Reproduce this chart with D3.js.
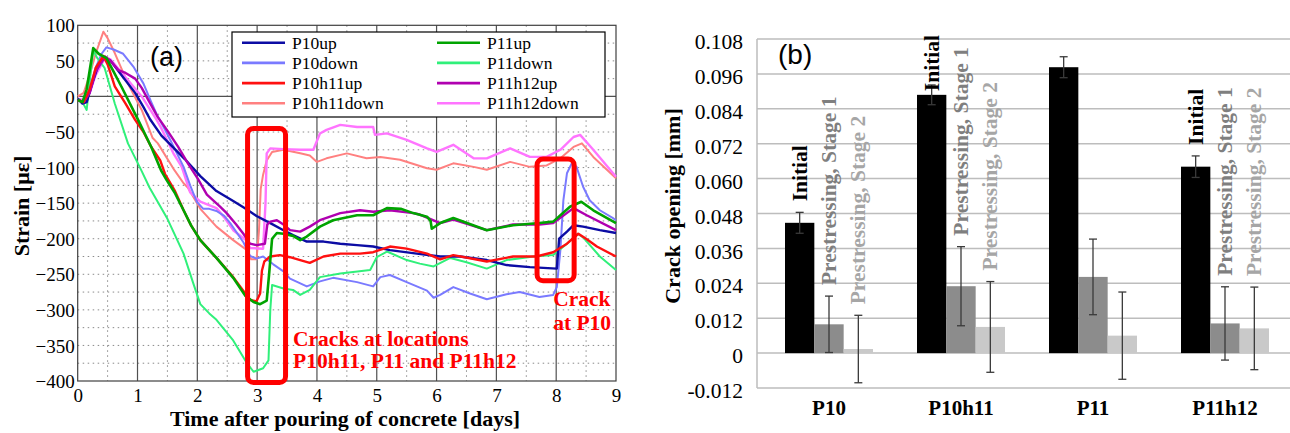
<!DOCTYPE html>
<html><head><meta charset="utf-8">
<script src="https://cdn.jsdelivr.net/npm/d3@7"></script>
<style>
body{margin:0;background:#fff}svg{display:block}
.serif{font-family:"Liberation Serif","Times New Roman",serif}
.sans{font-family:"Liberation Sans",Arial,sans-serif}
</style>
</head><body>
<svg id="c" width="1290" height="433"></svg>
<script>
// ---------- DATA: panel (a) strain vs time [day, microstrain] ----------
const P10up = [[0,-3],[0.08,-10],[0.15,-8],[0.25,20],[0.35,45],[0.45,55],[0.55,50],[0.75,28],[0.96,5],[1.1,-15],[1.21,-32],[1.4,-55],[1.6,-72],[1.79,-88],[2.05,-112],[2.32,-133],[2.6,-147],[2.83,-159],[2.99,-168],[3.22,-178],[3.44,-188],[3.6,-195],[3.83,-204],[4.11,-204],[4.39,-207],[4.67,-209],[4.94,-211],[5.22,-216],[5.67,-221],[6.06,-225],[6.39,-225],[6.84,-230],[7.17,-237],[7.56,-240],[8.01,-242],[8.05,-200],[8.18,-190],[8.29,-181],[8.45,-183],[8.73,-188],[9.0,-192]];
const P10down = [[0,-5],[0.1,-8],[0.2,10],[0.3,40],[0.4,60],[0.48,69],[0.6,66],[0.76,60],[0.93,42],[1.1,18],[1.23,-8],[1.32,-25],[1.45,-45],[1.6,-70],[1.77,-99],[1.88,-125],[1.99,-148],[2.1,-158],[2.2,-158],[2.32,-161],[2.45,-168],[2.55,-178],[2.77,-205],[2.88,-224],[2.99,-228],[3.1,-225],[3.27,-236],[3.44,-246],[3.55,-256],[3.83,-267],[4.05,-260],[4.27,-255],[4.67,-261],[4.94,-267],[5.06,-254],[5.22,-251],[5.5,-261],[5.84,-273],[5.95,-283],[6.06,-279],[6.28,-268],[6.56,-277],[6.84,-285],[7.17,-278],[7.39,-275],[7.72,-282],[7.95,-279],[8.01,-268],[8.07,-216],[8.12,-146],[8.18,-108],[8.26,-94],[8.34,-99],[8.45,-127],[8.56,-146],[8.73,-160],[8.95,-171],[9.0,-174]];
const P10h11up = [[0,-5],[0.1,-8],[0.2,10],[0.3,40],[0.43,57],[0.5,45],[0.62,14],[0.8,-10],[0.96,-33],[1.1,-50],[1.23,-71],[1.38,-90],[1.46,-109],[1.62,-132],[1.77,-160],[1.9,-182],[2.05,-202],[2.32,-227],[2.6,-254],[2.83,-280],[2.88,-286],[2.99,-288],[3.05,-277],[3.08,-245],[3.12,-232],[3.22,-225],[3.38,-223],[3.55,-226],[3.72,-230],[3.88,-234],[4.11,-225],[4.39,-221],[4.72,-221],[4.94,-219],[5.22,-211],[5.5,-214],[5.84,-221],[6.06,-229],[6.28,-223],[6.84,-232],[7.28,-225],[7.67,-225],[7.95,-219],[8.18,-207],[8.37,-193],[8.5,-200],[8.68,-211],[9.0,-225]];
const P10h11down = [[0,0],[0.1,5],[0.2,30],[0.3,60],[0.43,91],[0.5,82],[0.62,61],[0.84,18],[1.07,-19],[1.25,-58],[1.34,-66],[1.62,-104],[1.77,-122],[1.84,-128],[2.05,-158],[2.32,-183],[2.6,-202],[2.83,-216],[2.9,-229],[2.99,-229],[3.03,-190],[3.06,-130],[3.1,-110],[3.16,-90],[3.25,-78],[3.44,-75],[3.72,-80],[3.88,-83],[4.0,-92],[4.16,-87],[4.5,-80],[4.83,-87],[5.06,-85],[5.39,-89],[5.84,-101],[6.0,-103],[6.28,-94],[6.62,-99],[6.84,-103],[7.23,-92],[7.56,-99],[7.84,-97],[8.07,-87],[8.29,-71],[8.43,-66],[8.62,-85],[9.0,-115]];
const P11up = [[0,-5],[0.08,-8],[0.15,10],[0.26,68],[0.35,60],[0.48,54],[0.6,35],[0.73,14],[1.01,-33],[1.23,-71],[1.4,-105],[1.49,-118],[1.62,-135],[1.77,-160],[1.9,-182],[2.05,-202],[2.32,-227],[2.6,-255],[2.8,-280],[2.94,-289],[3.05,-292],[3.16,-287],[3.2,-250],[3.25,-200],[3.33,-192],[3.44,-193],[3.6,-196],[3.72,-202],[3.83,-197],[4.05,-183],[4.27,-174],[4.67,-167],[4.94,-167],[5.17,-157],[5.4,-158],[5.61,-164],[5.84,-169],[5.9,-175],[5.92,-186],[6.06,-178],[6.28,-171],[6.84,-188],[7.28,-181],[7.72,-178],[7.95,-176],[8.23,-155],[8.42,-148],[8.62,-160],[9.0,-178]];
const P11down = [[0,-3],[0.08,-8],[0.15,-19],[0.2,20],[0.26,65],[0.32,55],[0.45,40],[0.62,-10],[0.84,-66],[1.07,-105],[1.2,-128],[1.5,-172],[1.77,-221],[1.93,-262],[2.05,-292],[2.2,-305],[2.32,-314],[2.6,-343],[2.83,-375],[2.94,-387],[3.1,-382],[3.19,-371],[3.22,-300],[3.25,-265],[3.44,-270],[3.6,-272],[3.72,-279],[3.88,-272],[4.05,-254],[4.39,-249],[4.89,-244],[5.0,-226],[5.17,-218],[5.5,-230],[5.72,-235],[5.95,-239],[6.23,-227],[6.5,-233],[6.84,-242],[7.17,-230],[7.62,-225],[7.95,-223],[8.18,-207],[8.36,-193],[8.45,-198],[8.73,-225],[9.0,-244]];
const P11h12up = [[0,-5],[0.1,-8],[0.2,5],[0.3,35],[0.46,56],[0.55,50],[0.68,37],[0.8,33],[0.96,25],[1.07,12],[1.2,-8],[1.34,-29],[1.5,-48],[1.68,-71],[1.85,-95],[2.01,-116],[2.16,-138],[2.38,-155],[2.49,-164],[2.65,-180],[2.77,-193],[2.88,-207],[2.99,-209],[3.13,-207],[3.17,-180],[3.22,-176],[3.33,-174],[3.44,-180],[3.55,-188],[3.72,-190],[3.88,-183],[4.05,-174],[4.39,-164],[4.72,-160],[4.94,-162],[5.22,-160],[5.61,-164],[5.72,-166],[6.06,-178],[6.28,-173],[6.84,-188],[7.28,-180],[7.72,-180],[7.95,-178],[8.29,-157],[8.51,-167],[9.0,-188]];
const P11h12down = [[0,-3],[0.1,-5],[0.2,5],[0.3,30],[0.46,55],[0.55,52],[0.79,28],[1.07,0],[1.32,-33],[1.4,-45],[1.6,-80],[1.74,-99],[1.88,-135],[2.05,-148],[2.32,-157],[2.45,-170],[2.6,-188],[2.83,-203],[2.88,-213],[3.1,-214],[3.14,-150],[3.16,-80],[3.22,-73],[3.44,-74],[3.72,-75],[3.94,-75],[4.05,-52],[4.16,-47],[4.39,-40],[4.67,-43],[4.94,-43],[4.97,-54],[5.17,-52],[5.5,-61],[5.84,-73],[6.0,-78],[6.28,-68],[6.62,-87],[6.84,-87],[7.23,-73],[7.56,-85],[7.84,-85],[8.07,-75],[8.29,-57],[8.4,-54],[8.62,-75],[9.0,-113]];
const seriesNames = ["P10up","P10down","P10h11up","P10h11down","P11up","P11down","P11h12up","P11h12down"];
const xTicksA = [0,1,2,3,4,5,6,7,8,9];
const yTicksA = [100,50,0,-50,-100,-150,-200,-250,-300,-350,-400];

// ---------- DATA: panel (b) crack opening ----------
const categories = ["P10","P10h11","P11","P11h12"];
const stageNames = ["Initial","Prestressing, Stage 1","Prestressing, Stage 2"];
const initial    = [0.0448,0.0888,0.0983,0.0641];
const initialErr = [0.0036,0.0034,0.0036,0.0037];
const stage1     = [0.0099,0.0230,0.0262,0.0102];
const stage1Err  = [0.0097,0.0136,0.0130,0.0126];
const stage2     = [0.0014,0.0090,0.0060,0.0085];
const stage2Err  = [0.0116,0.0156,0.0150,0.0142];
const showLabels = [true,true,false,true];
const yTicksB = [-0.012,0,0.012,0.024,0.036,0.048,0.060,0.072,0.084,0.096,0.108];

// ---------- drawing ----------
const svg = d3.select("#c");

// ===== Panel (a) =====
const xA = d3.scaleLinear().domain([0,9]).range([77.7,616]);
const yA = d3.scaleLinear().domain([-400,100]).range([381,25.3]);
const gA = svg.append("g");

const hDots = d3.range(-375,100,25).filter(v=>v!==0);
gA.selectAll("line.hd").data(hDots).join("line").attr("class","hd")
  .attr("x1",xA(0)).attr("x2",xA(9)).attr("y1",d=>yA(d)).attr("y2",d=>yA(d))
  .attr("stroke","#8a8a8a").attr("stroke-width",1).attr("stroke-dasharray","1.5,3.5");
const vDots = d3.range(0.5,9,1);
gA.selectAll("line.vd").data(vDots).join("line").attr("class","vd")
  .attr("x1",d=>xA(d)).attr("x2",d=>xA(d)).attr("y1",yA(100)).attr("y2",yA(-400))
  .attr("stroke","#8a8a8a").attr("stroke-width",1).attr("stroke-dasharray","1.5,3.5");
gA.selectAll("line.vs").data(d3.range(1,9)).join("line").attr("class","vs")
  .attr("x1",d=>xA(d)).attr("x2",d=>xA(d)).attr("y1",yA(100)).attr("y2",yA(-400))
  .attr("stroke","#505050").attr("stroke-width",1.2);
gA.append("line").attr("x1",xA(0)).attr("x2",xA(9)).attr("y1",yA(0)).attr("y2",yA(0))
  .attr("stroke","#505050").attr("stroke-width",1.2);
gA.append("rect").attr("x",xA(0)).attr("y",yA(100)).attr("width",xA(9)-xA(0)).attr("height",yA(-400)-yA(100))
  .attr("fill","none").attr("stroke","#404040").attr("stroke-width",1.2);

// axes
const axYA = gA.append("g").attr("transform",`translate(${xA(0)},0)`)
  .call(d3.axisLeft(yA).tickValues(yTicksA).tickSize(0).tickPadding(3)
    .tickFormat(d=> d<0 ? "\u2212"+(-d) : String(d)));
axYA.attr("font-family",null).attr("font-size",null);
axYA.select(".domain").remove();
axYA.selectAll("text").attr("class","serif").style("font-size","19px").attr("fill","#000").attr("dy","0.35em");
const axXA = gA.append("g").attr("transform",`translate(0,${yA(-400)})`)
  .call(d3.axisBottom(xA).tickValues(xTicksA).tickSize(0).tickPadding(7.5).tickFormat(d3.format("d")));
axXA.attr("font-family",null).attr("font-size",null);
axXA.select(".domain").remove();
axXA.selectAll("text").attr("class","serif").style("font-size","19px").attr("fill","#000");

// lines
const colorsA = {P10up:"#0c0ca4",P10down:"#7a7aff",P10h11up:"#ff1010",P10h11down:"#ff8080",
  P11up:"#00a400",P11down:"#30f07a",P11h12up:"#b000b0",P11h12down:"#ff74ff"};
const widthsA = {P10up:2.4,P10down:2,P10h11up:2.4,P10h11down:2,P11up:2.6,P11down:2,P11h12up:2.4,P11h12down:2.4};
const dataA = {P10up,P10down,P10h11up,P10h11down,P11up,P11down,P11h12up,P11h12down};
const line = d3.line().x(d=>xA(d[0])).y(d=>yA(d[1]));
const drawOrder = ["P10h11down","P11h12down","P10down","P11down","P10up","P11h12up","P10h11up","P11up"];
drawOrder.forEach(n=>{
  gA.append("path").datum(dataA[n]).attr("d",line).attr("fill","none")
    .attr("stroke",colorsA[n]).attr("stroke-width",widthsA[n]).attr("stroke-linejoin","round");
});

// red annotation boxes
const boxes = [[2.84,3.475,-45,-402],[7.68,8.3,-88,-259]];
gA.selectAll("rect.box").data(boxes).join("rect").attr("class","box")
  .attr("x",d=>xA(d[0])).attr("width",d=>xA(d[1])-xA(d[0]))
  .attr("y",d=>yA(d[2])).attr("height",d=>yA(d[3])-yA(d[2]))
  .attr("rx",6).attr("fill","none").attr("stroke","#ff0000").attr("stroke-width",5);

// legend
const lg = gA.append("g");
lg.append("rect").attr("x",232).attr("y",32).attr("width",373).attr("height",85)
  .attr("fill","#fff").attr("stroke","#000").attr("stroke-width",1.2);
seriesNames.forEach((n,i)=>{
  const col = Math.floor(i/4), row = i%4;
  const lx = col===0 ? 242 : 437, tx = col===0 ? 292 : 487;
  const cy = 42.7 + row*20.2;
  lg.append("line").attr("x1",lx).attr("x2",lx+43).attr("y1",cy).attr("y2",cy)
    .attr("stroke",colorsA[n]).attr("stroke-width",2.6);
  lg.append("text").attr("class","serif").attr("x",tx).attr("y",cy+6).style("font-size","17.5px")
    .attr("fill","#000").text(n);
});

// texts
gA.append("text").attr("class","sans").attr("x",150).attr("y",66).style("font-size","27px").text("(a)");
gA.append("text").attr("class","serif").attr("x",345).attr("y",426).attr("text-anchor","middle")
  .style("font-weight","bold").style("font-size","22px").text("Time after pouring of concrete [days]");
gA.append("text").attr("class","serif").attr("transform","translate(29,206) rotate(-90)").attr("text-anchor","middle")
  .style("font-weight","bold").style("font-size","22px").text("Strain [\u03bc\u03b5]");
const redNotes = [[3.6,-351,"Cracks at locations"],[3.6,-382,"P10h11, P11 and P11h12"],[7.95,-294,"Crack"],[7.95,-328,"at P10"]];
gA.selectAll("text.note").data(redNotes).join("text").attr("class","note serif")
  .attr("x",d=>xA(d[0])).attr("y",d=>yA(d[1])).style("font-weight","bold")
  .style("font-size","21.5px").attr("fill","#ff0000").text(d=>d[2]);

// ===== Panel (b) =====
const yB = d3.scaleLinear().domain([-0.012,0.108]).range([388,39]);
const xB = d3.scaleBand().domain(categories).range([763,1291]).paddingInner(1/3).paddingOuter(1/6);
const xS = d3.scaleBand().domain([0,1,2]).range([0,xB.bandwidth()]);
const gB = svg.append("g");
const plotL = 757, plotR = 1290;

gB.selectAll("line.gr").data(yTicksB).join("line").attr("class","gr")
  .attr("x1",plotL).attr("x2",plotR).attr("y1",d=>yB(d)).attr("y2",d=>yB(d))
  .attr("stroke","#bdbdbd").attr("stroke-width",1.5);
gB.append("line").attr("x1",plotL).attr("x2",plotL).attr("y1",yB(0.108)).attr("y2",yB(-0.012))
  .attr("stroke","#bdbdbd").attr("stroke-width",1.5);

const axYB = gB.append("g").attr("transform",`translate(${plotL},0)`)
  .call(d3.axisLeft(yB).tickValues(yTicksB).tickSize(0).tickPadding(14)
    .tickFormat(d=> Math.abs(d)<1e-9 ? "0" : d.toFixed(3)));
axYB.attr("font-family",null).attr("font-size",null);
axYB.select(".domain").remove();
axYB.selectAll("text").attr("class","serif").style("font-size","21.5px").attr("fill","#000").attr("dy","0.45em");

const vals = [initial,stage1,stage2], errs = [initialErr,stage1Err,stage2Err];
const barFill = ["#000000","#8c8c8c","#c9c9c9"];
const labelFill = ["#000000","#7f7f7f","#a6a6a6"];
const bars = [];
categories.forEach((c,i)=>{ [0,1,2].forEach(s=>{ bars.push({c,i,s,v:vals[s][i],e:errs[s][i]}); }); });

gB.selectAll("rect.bar").data(bars).join("rect").attr("class","bar")
  .attr("x",d=>xB(d.c)+xS(d.s)).attr("width",xS.bandwidth())
  .attr("y",d=>yB(d.v)).attr("height",d=>yB(0)-yB(d.v)).attr("fill",d=>barFill[d.s]);

const cxOf = d=>xB(d.c)+xS(d.s)+xS.bandwidth()/2;
const eb = gB.selectAll("g.eb").data(bars).join("g").attr("class","eb")
  .attr("stroke","#3a3a3a").attr("stroke-width",1.3);
eb.append("line").attr("x1",cxOf).attr("x2",cxOf)
  .attr("y1",d=>yB(d.v+d.e)).attr("y2",d=>yB(d.v-d.e));
eb.append("line").attr("x1",d=>cxOf(d)-4).attr("x2",d=>cxOf(d)+4)
  .attr("y1",d=>yB(d.v+d.e)).attr("y2",d=>yB(d.v+d.e));
eb.append("line").attr("x1",d=>cxOf(d)-4).attr("x2",d=>cxOf(d)+4)
  .attr("y1",d=>yB(d.v-d.e)).attr("y2",d=>yB(d.v-d.e));

// rotated data labels
bars.filter(d=>showLabels[d.i]).forEach(d=>{
  const cx = cxOf(d) + 7;
  const t = gB.append("text").attr("class","serif").style("font-weight","bold").style("font-size","21.5px")
    .attr("fill",labelFill[d.s]).text(stageNames[d.s]);
  const len = t.node().getComputedTextLength();
  let y = yB(d.v+d.e) - 11;
  if (y - len < 35) y = 35 + len;
  t.attr("transform",`translate(${cx},${y}) rotate(-90)`);
});

gB.selectAll("text.cat").data(categories).join("text").attr("class","cat serif")
  .attr("x",d=>xB(d)+xB.bandwidth()/2).attr("y",415).attr("text-anchor","middle")
  .style("font-weight","bold").style("font-size","21px").text(d=>d);

gB.append("text").attr("class","serif").attr("transform","translate(680,206) rotate(-90)").attr("text-anchor","middle")
  .style("font-weight","bold").style("font-size","22px").text("Crack opening [mm]");
gB.append("text").attr("class","sans").attr("x",778).attr("y",64).style("font-size","28px").text("(b)");
</script></body></html>
